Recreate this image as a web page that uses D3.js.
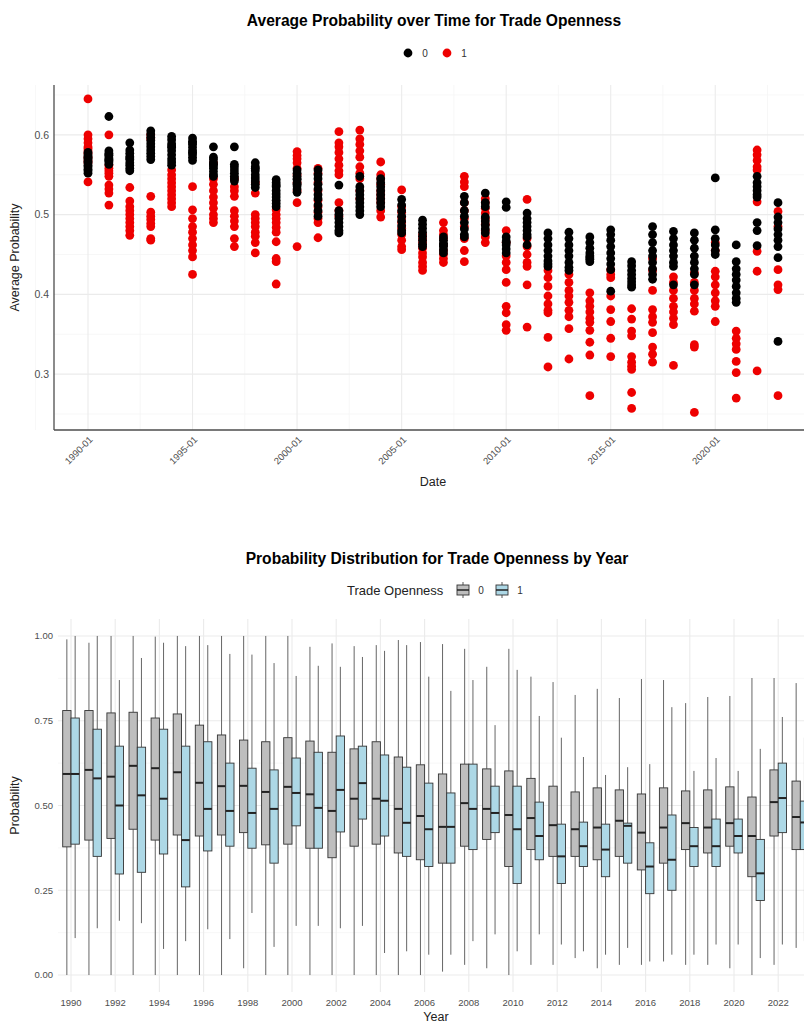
<!DOCTYPE html>
<html><head><meta charset="utf-8">
<script src="https://cdn.jsdelivr.net/npm/d3@7"></script>
<style>
html,body{margin:0;padding:0;background:#fff;}
svg{display:block;font-family:"Liberation Sans",Arial,sans-serif;}
</style></head>
<body>
<svg id="chart" width="804" height="1023"></svg>
<script>
// ---------- DATA ----------
const years = d3.range(1990, 2024);
const seriesKeys = ["0", "1"];
const scatterTitle = "Average Probability over Time for Trade Openness";
const boxTitle = "Probability Distribution for Trade Openness by Year";

// average probability per year, group 0 (black)
const avg0 = [
 [0.578,0.573,0.570,0.567,0.565,0.562,0.560,0.557,0.555,0.552,0.575,0.571],
 [0.623,0.580,0.577,0.574,0.571,0.569,0.566,0.563,0.575,0.568],
 [0.590,0.581,0.577,0.573,0.569,0.565,0.562,0.558,0.555,0.571],
 [0.605,0.601,0.597,0.593,0.589,0.585,0.581,0.577,0.573,0.569],
 [0.598,0.594,0.589,0.584,0.580,0.575,0.570,0.566,0.562,0.586],
 [0.596,0.592,0.588,0.584,0.580,0.576,0.572,0.568,0.590,0.578],
 [0.585,0.572,0.569,0.565,0.561,0.558,0.554,0.550,0.548,0.563],
 [0.585,0.563,0.560,0.548,0.545,0.542,0.556,0.552],
 [0.565,0.560,0.555,0.550,0.546,0.542,0.538,0.534,0.558],
 [0.544,0.540,0.535,0.530,0.526,0.522,0.518,0.514,0.510,0.537],
 [0.556,0.552,0.548,0.544,0.540,0.536,0.532,0.528,0.545,0.538],
 [0.556,0.550,0.545,0.538,0.532,0.525,0.520,0.512,0.505,0.498],
 [0.537,0.495,0.490,0.485,0.480,0.477,0.500,0.505],
 [0.548,0.530,0.525,0.520,0.515,0.510,0.505,0.500,0.535],
 [0.545,0.540,0.535,0.530,0.525,0.520,0.515,0.510],
 [0.519,0.512,0.505,0.498,0.492,0.486,0.480,0.477],
 [0.493,0.488,0.483,0.478,0.473,0.468,0.463,0.460],
 [0.472,0.468,0.464,0.460,0.456,0.452,0.462],
 [0.523,0.515,0.505,0.498,0.490,0.482,0.475,0.472],
 [0.527,0.515,0.510,0.497,0.492,0.487,0.482,0.477],
 [0.516,0.509,0.472,0.467,0.462,0.457,0.452,0.465],
 [0.502,0.495,0.490,0.485,0.480,0.475,0.472,0.462],
 [0.477,0.470,0.462,0.455,0.448,0.442,0.438,0.435],
 [0.478,0.470,0.462,0.455,0.448,0.440,0.434,0.430],
 [0.472,0.465,0.458,0.452,0.446,0.441,0.448,0.444],
 [0.481,0.475,0.468,0.460,0.452,0.445,0.438,0.431,0.404],
 [0.441,0.436,0.430,0.425,0.420,0.416,0.412,0.409],
 [0.485,0.475,0.465,0.455,0.448,0.440,0.432,0.425,0.419],
 [0.479,0.470,0.462,0.455,0.448,0.440,0.435,0.412],
 [0.477,0.468,0.458,0.448,0.440,0.432,0.425,0.412],
 [0.546,0.481,0.470,0.462,0.455,0.450],
 [0.462,0.441,0.432,0.425,0.418,0.410,0.402,0.395,0.390],
 [0.548,0.540,0.535,0.530,0.525,0.522,0.490,0.480,0.461],
 [0.515,0.497,0.490,0.482,0.475,0.468,0.460,0.446,0.341]
];
// average probability per year, group 1 (red)
const avg1 = [
 [0.645,0.600,0.595,0.590,0.585,0.580,0.577,0.572,0.568,0.541,0.583,0.565],
 [0.600,0.562,0.558,0.555,0.552,0.548,0.537,0.532,0.527,0.512],
 [0.534,0.517,0.510,0.505,0.500,0.495,0.490,0.485,0.480,0.474],
 [0.600,0.595,0.523,0.503,0.498,0.494,0.489,0.485,0.470,0.468],
 [0.556,0.550,0.545,0.540,0.530,0.525,0.520,0.515,0.510,0.535],
 [0.535,0.506,0.495,0.485,0.478,0.470,0.462,0.455,0.447,0.425],
 [0.565,0.545,0.538,0.530,0.522,0.515,0.508,0.500,0.495,0.490],
 [0.535,0.530,0.523,0.505,0.498,0.492,0.485,0.470,0.460,0.545],
 [0.527,0.500,0.495,0.490,0.485,0.478,0.473,0.465,0.452,0.540],
 [0.506,0.500,0.495,0.490,0.484,0.478,0.466,0.445,0.441,0.413],
 [0.579,0.574,0.570,0.565,0.558,0.550,0.540,0.530,0.515,0.460],
 [0.558,0.552,0.540,0.530,0.518,0.510,0.503,0.495,0.490,0.471],
 [0.604,0.590,0.585,0.578,0.570,0.562,0.555,0.550,0.515,0.505,0.498],
 [0.606,0.595,0.588,0.580,0.572,0.560,0.552,0.545,0.530,0.520],
 [0.566,0.550,0.545,0.538,0.530,0.525,0.520,0.515,0.505,0.497],
 [0.531,0.510,0.503,0.496,0.490,0.483,0.475,0.468,0.460,0.456],
 [0.475,0.465,0.458,0.452,0.447,0.440,0.435,0.430,0.470],
 [0.490,0.480,0.470,0.462,0.455,0.450,0.445,0.440,0.475],
 [0.548,0.541,0.535,0.515,0.505,0.495,0.485,0.470,0.455,0.441],
 [0.520,0.515,0.508,0.502,0.495,0.488,0.480,0.472,0.465],
 [0.480,0.465,0.448,0.440,0.431,0.415,0.385,0.377,0.362,0.355],
 [0.519,0.470,0.460,0.450,0.440,0.435,0.412,0.359],
 [0.430,0.421,0.410,0.398,0.388,0.380,0.377,0.346,0.309],
 [0.425,0.415,0.405,0.398,0.390,0.380,0.372,0.357,0.319],
 [0.402,0.392,0.385,0.378,0.370,0.365,0.355,0.340,0.324,0.273],
 [0.431,0.425,0.421,0.398,0.381,0.366,0.345,0.322],
 [0.382,0.369,0.354,0.348,0.322,0.315,0.310,0.306,0.277,0.257],
 [0.445,0.430,0.405,0.381,0.372,0.365,0.352,0.334,0.325,0.315],
 [0.422,0.415,0.405,0.395,0.385,0.378,0.370,0.362,0.311],
 [0.427,0.415,0.405,0.395,0.388,0.379,0.337,0.334,0.252],
 [0.465,0.455,0.429,0.422,0.412,0.402,0.392,0.385,0.366],
 [0.354,0.345,0.338,0.331,0.316,0.302,0.270],
 [0.581,0.575,0.568,0.560,0.556,0.516,0.454,0.429,0.304],
 [0.504,0.485,0.431,0.412,0.406,0.273]
];

// box statistics, group 0 (grey)
const b0_lo  = [0.00,0.00,0.00,0.00,0.00,0.00,0.00,0.00,0.02,0.00,0.00,0.00,0.00,0.00,0.00,0.00,0.00,0.01,0.03,0.02,0.00,0.03,0.03,0.05,0.02,0.03,0.03,0.04,0.03,0.03,0.02,0.00,0.03,0.08];
const b0_q1  = [0.378,0.398,0.403,0.430,0.398,0.413,0.410,0.413,0.420,0.384,0.386,0.374,0.346,0.380,0.386,0.360,0.340,0.330,0.380,0.400,0.320,0.370,0.350,0.350,0.340,0.350,0.310,0.330,0.370,0.360,0.380,0.290,0.410,0.370];
const b0_med = [0.593,0.605,0.585,0.617,0.610,0.598,0.567,0.557,0.558,0.540,0.555,0.533,0.484,0.520,0.520,0.490,0.469,0.437,0.507,0.490,0.472,0.463,0.442,0.430,0.435,0.455,0.420,0.435,0.448,0.435,0.448,0.410,0.510,0.466];
const b0_q3  = [0.780,0.780,0.773,0.775,0.758,0.770,0.737,0.708,0.693,0.688,0.700,0.690,0.657,0.667,0.688,0.643,0.620,0.593,0.622,0.608,0.602,0.580,0.557,0.540,0.552,0.546,0.534,0.552,0.543,0.546,0.555,0.525,0.605,0.572];
const b0_hi  = [0.990,0.980,1.000,1.000,0.998,1.000,1.000,1.000,1.000,1.000,1.000,0.968,0.978,0.970,0.973,0.988,0.982,0.976,0.962,0.909,0.962,0.880,0.864,0.826,0.844,0.817,0.873,0.870,0.802,0.820,0.823,0.876,0.876,0.861];
// box statistics, group 1 (light blue)
const b1_lo  = [0.109,0.138,0.160,0.153,0.077,0.100,0.135,0.106,0.183,0.083,0.145,0.145,0.138,0.145,0.065,0.070,0.060,0.060,0.100,0.120,0.070,0.120,0.090,0.070,0.060,0.080,0.040,0.060,0.060,0.090,0.090,0.050,0.090,0.100];
const b1_q1  = [0.386,0.350,0.298,0.303,0.357,0.260,0.366,0.380,0.374,0.330,0.440,0.374,0.422,0.460,0.410,0.350,0.320,0.330,0.370,0.420,0.270,0.340,0.270,0.320,0.290,0.330,0.240,0.250,0.320,0.320,0.360,0.220,0.420,0.370];
const b1_med = [0.593,0.580,0.500,0.530,0.520,0.398,0.490,0.484,0.478,0.490,0.537,0.493,0.546,0.566,0.514,0.449,0.430,0.437,0.490,0.478,0.430,0.410,0.350,0.380,0.370,0.440,0.320,0.340,0.380,0.380,0.410,0.300,0.522,0.450];
const b1_q3  = [0.758,0.725,0.675,0.672,0.725,0.675,0.688,0.625,0.610,0.605,0.640,0.657,0.705,0.675,0.649,0.613,0.566,0.537,0.622,0.557,0.557,0.510,0.445,0.451,0.445,0.448,0.390,0.472,0.435,0.460,0.460,0.400,0.625,0.513];
const b1_hi  = [1.000,1.000,0.870,0.935,0.980,0.970,0.973,0.947,0.945,0.920,0.882,0.912,0.909,0.938,0.956,0.973,0.880,0.838,0.870,0.737,0.900,0.764,0.700,0.643,0.590,0.613,0.622,0.790,0.602,0.640,0.602,0.667,0.761,0.700];

const yTicksTop = [0.3, 0.4, 0.5, 0.6];
const yTicksBox = [0, 0.25, 0.5, 0.75, 1];
const xLabelYears = d3.range(1990, 2024, 2);

// ---------- DRAW ----------
const svg = d3.select("#chart");
const gridMajor = "#ebebeb", gridMinor = "#f5f5f5";

// ===== TOP: scatter =====
const T = {l:54, r:812, t:85, b:430};
const xT = d3.scaleTime().domain([new Date(1990,0,1), new Date(2023,0,1)]).range([88, 778]);
const yT = d3.scaleLinear().domain([0.23, 0.6625]).range([T.b, T.t]);

const gTop = svg.append("g");
const yMinorT = [0.25,0.35,0.45,0.55,0.65];
gTop.selectAll(".ymn").data(yMinorT).join("line")
  .attr("x1",T.l).attr("x2",T.r).attr("y1",d=>yT(d)).attr("y2",d=>yT(d))
  .attr("stroke",gridMinor).attr("stroke-width",0.8);
const xMinorT = d3.range(1987, 2027, 5).map(y=>new Date(y,6,1));
gTop.selectAll(".xmn").data(xMinorT).join("line")
  .attr("x1",d=>xT(d)).attr("x2",d=>xT(d)).attr("y1",T.t).attr("y2",T.b)
  .attr("stroke",gridMinor).attr("stroke-width",0.8);
gTop.selectAll(".ymj").data(yTicksTop).join("line")
  .attr("x1",T.l).attr("x2",T.r).attr("y1",d=>yT(d)).attr("y2",d=>yT(d))
  .attr("stroke",gridMajor).attr("stroke-width",1.1);
const xTicksTop = d3.range(1990, 2021, 5).map(y=>new Date(y,0,1));
gTop.selectAll(".xmj").data(xTicksTop).join("line")
  .attr("x1",d=>xT(d)).attr("x2",d=>xT(d)).attr("y1",T.t).attr("y2",T.b)
  .attr("stroke",gridMajor).attr("stroke-width",1.1);

const pts = [];
years.forEach((yr,i)=>{
  avg1[i].forEach(v=>pts.push({yr, v, g:"1"}));
  avg0[i].forEach(v=>pts.push({yr, v, g:"0"}));
});
gTop.selectAll(".pt").data(pts).join("circle")
  .attr("cx",d=>xT(new Date(d.yr,0,1))).attr("cy",d=>yT(d.v)).attr("r",4.4)
  .attr("fill",d=>d.g==="0"?"#000000":"#ee0000");

gTop.append("line").attr("x1",T.l).attr("x2",T.l).attr("y1",T.t).attr("y2",T.b).attr("stroke","#4d4d4d").attr("stroke-width",1.3);
gTop.append("line").attr("x1",T.l).attr("x2",T.r).attr("y1",T.b).attr("y2",T.b).attr("stroke","#4d4d4d").attr("stroke-width",1.3);

gTop.selectAll(".ytl").data(yTicksTop).join("text")
  .attr("x",T.l-5).attr("y",d=>yT(d)).attr("dy","0.35em").attr("text-anchor","end")
  .attr("font-size",10.5).attr("fill","#4d4d4d").text(d=>d3.format(".1f")(d));
const fmt = d3.timeFormat("%Y-%m");
gTop.selectAll(".xtl").data(xTicksTop).join("text")
  .attr("transform",d=>`translate(${xT(d)+3},${T.b+8}) rotate(-45)`)
  .attr("text-anchor","end").attr("dy","0.35em")
  .attr("font-size",9.5).attr("fill","#4d4d4d").text(d=>fmt(d));
svg.append("text").attr("x",434).attr("y",26).attr("text-anchor","middle")
  .attr("font-size",15.6).attr("font-weight","bold").attr("fill","#000").text(scatterTitle);
svg.append("text").attr("x",433).attr("y",486).attr("text-anchor","middle")
  .attr("font-size",12.5).attr("fill","#222").text("Date");
svg.append("text").attr("transform",`translate(19,${(T.t+T.b)/2}) rotate(-90)`).attr("text-anchor","middle")
  .attr("font-size",12.5).attr("fill","#222").text("Average Probability");
const lg = svg.append("g");
seriesKeys.forEach((k,i)=>{
  const x0 = 408 + i*39;
  lg.append("circle").attr("cx",x0).attr("cy",53).attr("r",4.4).attr("fill",k==="0"?"#000":"#ee0000");
  lg.append("text").attr("x",x0+17).attr("y",53).attr("dy","0.35em").attr("text-anchor","middle")
    .attr("font-size",10).attr("fill","#333").text(k);
});

// ===== BOTTOM: boxplots =====
const B = {l:58, r:814, t:619, b:992};
const xB = d3.scalePoint().domain(years).range([71, 71 + 33*22.1]);
const yB = d3.scaleLinear().domain([-0.05, 1.05]).range([B.b, B.t]);
const gBot = svg.append("g");
const yMinorB = [0.125,0.375,0.625,0.875];
gBot.selectAll(".ymnb").data(yMinorB).join("line")
  .attr("x1",B.l).attr("x2",B.r).attr("y1",d=>yB(d)).attr("y2",d=>yB(d))
  .attr("stroke",gridMinor).attr("stroke-width",0.8);
gBot.selectAll(".ymjb").data(yTicksBox).join("line")
  .attr("x1",B.l).attr("x2",B.r).attr("y1",d=>yB(d)).attr("y2",d=>yB(d))
  .attr("stroke",gridMajor).attr("stroke-width",1.1);
gBot.selectAll(".xmjb").data(xLabelYears).join("line")
  .attr("x1",d=>xB(d)).attr("x2",d=>xB(d)).attr("y1",B.t).attr("y2",B.b)
  .attr("stroke",gridMajor).attr("stroke-width",1.1);

const boxW = 8.3;
const boxes = [];
years.forEach((yr,i)=>{
  boxes.push({yr, g:"0", lo:b0_lo[i], q1:b0_q1[i], med:b0_med[i], q3:b0_q3[i], hi:b0_hi[i]});
  boxes.push({yr, g:"1", lo:b1_lo[i], q1:b1_q1[i], med:b1_med[i], q3:b1_q3[i], hi:b1_hi[i]});
});
const cx = d => xB(d.yr) + (d.g==="0" ? -boxW/2 : boxW/2);
const bg = gBot.selectAll(".box").data(boxes).join("g");
bg.append("line").attr("x1",cx).attr("x2",cx).attr("y1",d=>yB(d.hi)).attr("y2",d=>yB(d.q3))
  .attr("stroke","#666").attr("stroke-width",1);
bg.append("line").attr("x1",cx).attr("x2",cx).attr("y1",d=>yB(d.q1)).attr("y2",d=>yB(d.lo))
  .attr("stroke","#666").attr("stroke-width",1);
bg.append("rect").attr("x",d=>cx(d)-boxW/2).attr("width",boxW)
  .attr("y",d=>yB(d.q3)).attr("height",d=>yB(d.q1)-yB(d.q3))
  .attr("fill",d=>d.g==="0"?"#bebebe":"#add8e6").attr("stroke","#333").attr("stroke-width",0.9);
bg.append("line").attr("x1",d=>cx(d)-boxW/2).attr("x2",d=>cx(d)+boxW/2)
  .attr("y1",d=>yB(d.med)).attr("y2",d=>yB(d.med)).attr("stroke","#222").attr("stroke-width",2);

gBot.selectAll(".ytlb").data(yTicksBox).join("text")
  .attr("x",B.l-5).attr("y",d=>yB(d)).attr("dy","0.35em").attr("text-anchor","end")
  .attr("font-size",9.5).attr("fill","#4d4d4d").text(d=>d3.format(".2f")(d));
gBot.selectAll(".xtlb").data(xLabelYears).join("text")
  .attr("x",d=>xB(d)).attr("y",B.b+11).attr("dy","0.35em").attr("text-anchor","middle")
  .attr("font-size",9.5).attr("fill","#4d4d4d").text(d=>d);

svg.append("text").attr("x",437).attr("y",564).attr("text-anchor","middle")
  .attr("font-size",15.6).attr("font-weight","bold").attr("fill","#000").text(boxTitle);
svg.append("text").attr("x",436).attr("y",1021).attr("text-anchor","middle")
  .attr("font-size",12.5).attr("fill","#222").text("Year");
svg.append("text").attr("transform",`translate(19,${yB(0.5)}) rotate(-90)`).attr("text-anchor","middle")
  .attr("font-size",12.5).attr("fill","#222").text("Probability");
svg.append("text").attr("x",347).attr("y",590).attr("dy","0.35em")
  .attr("font-size",13).attr("fill","#222").text("Trade Openness");
seriesKeys.forEach((k,i)=>{
  const kx = 463 + i*39;
  const g = svg.append("g");
  g.append("line").attr("x1",kx).attr("x2",kx).attr("y1",582).attr("y2",598).attr("stroke","#555");
  g.append("rect").attr("x",kx-6).attr("y",585).attr("width",12).attr("height",10)
    .attr("fill",k==="0"?"#bebebe":"#add8e6").attr("stroke","#333").attr("stroke-width",0.9);
  g.append("line").attr("x1",kx-6).attr("x2",kx+6).attr("y1",590).attr("y2",590).attr("stroke","#222").attr("stroke-width",1.5);
  g.append("text").attr("x",kx+18).attr("y",590).attr("dy","0.35em").attr("text-anchor","middle")
    .attr("font-size",10).attr("fill","#333").text(k);
});
</script>
</body></html>
